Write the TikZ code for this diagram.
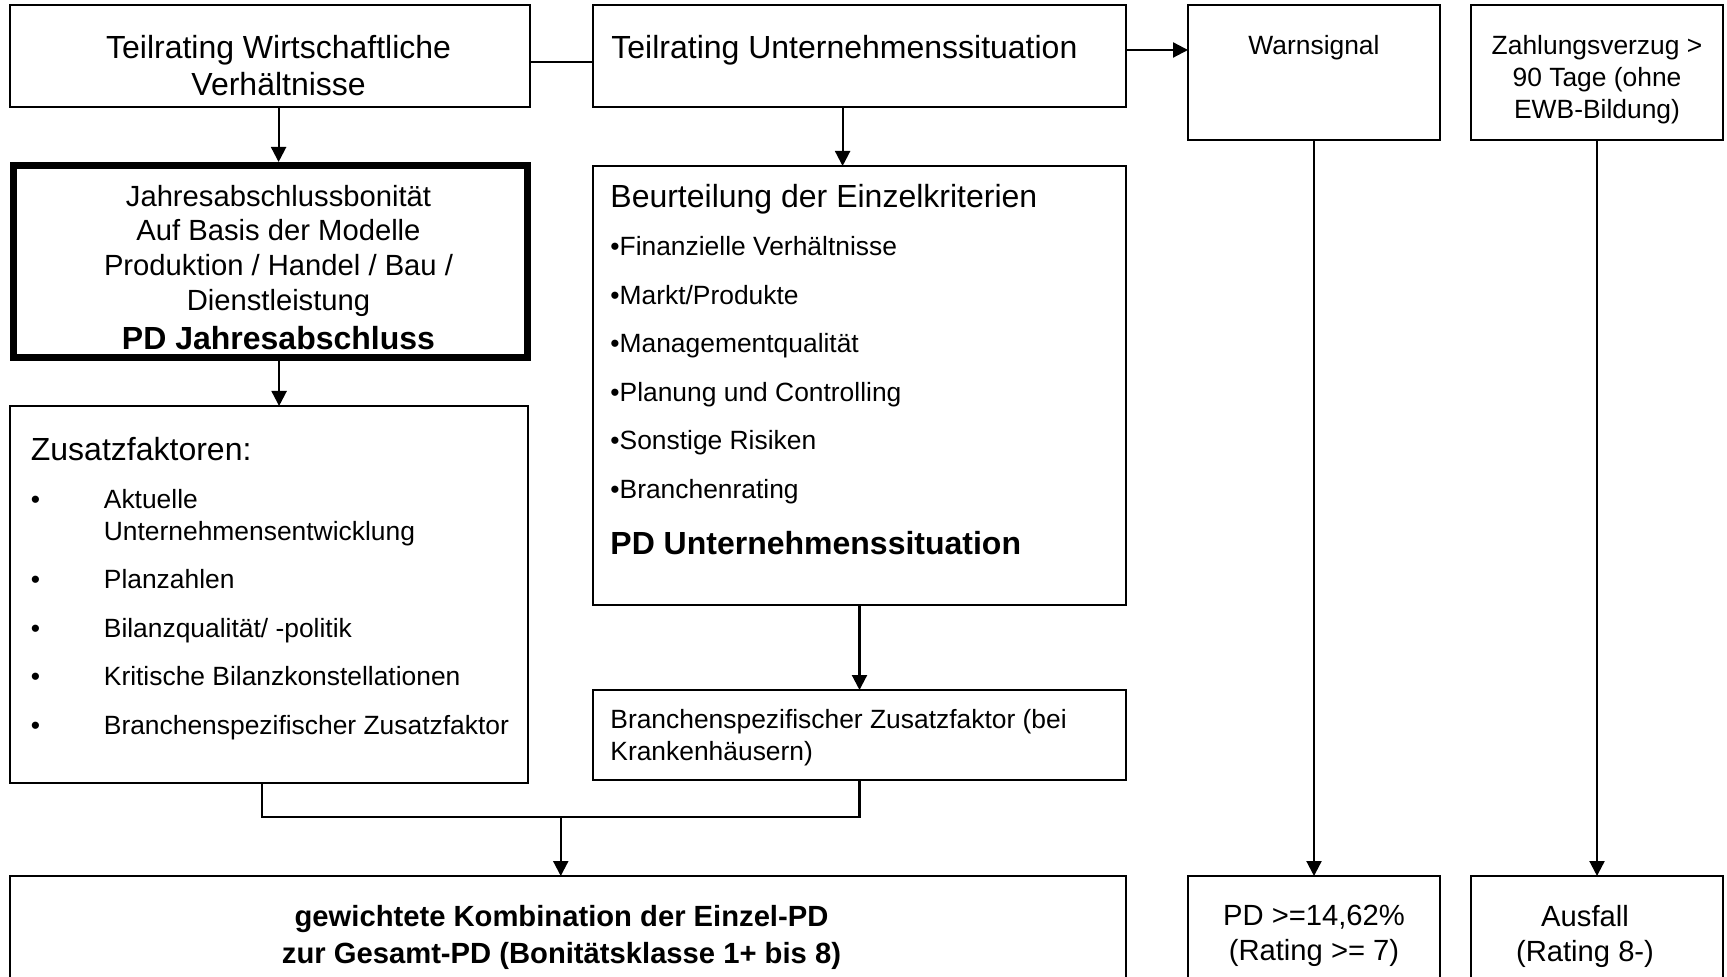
\documentclass[tikz,border=0pt]{standalone}
\usepackage{fontspec}
\setmainfont{Liberation Sans}
\usepackage{tikz}
\usetikzlibrary{arrows.meta,positioning,calc}

\begin{document}
\begin{tikzpicture}[
  x=0.5pt, y=-0.5pt,
  box/.style={draw, line width=1.1pt, inner sep=0pt, outer sep=0pt, anchor=north west},
  thickbox/.style={box, line width=3.5pt, outer sep=1.75pt},
  big/.style={inner sep=0pt, font=\fontsize{16}{18.75}\selectfont},
  mid/.style={inner sep=0pt, font=\fontsize{14.6}{17.4}\selectfont},
  small/.style={inner sep=0pt, font=\fontsize{13.2}{16}\selectfont},
  ln/.style={line width=1.1pt},
  ar/.style={-{Triangle[length=7.5pt,width=7.5pt]}, line width=1.1pt},
]
\useasboundingbox (0,0) rectangle (1727,977);

% --- top row ---
\node[box, minimum width=260pt, minimum height=51pt] (tw) at (10,5) {};
\node[box, minimum width=266.5pt, minimum height=51pt] (tu) at (593,5) {};
\node[box, minimum width=126pt, minimum height=67.5pt] (warn) at (1188,5) {};
\node[box, minimum width=126pt, minimum height=67.5pt] (zv) at (1471,5) {};
\node[big, align=center, below=14.75pt of tw.north, xshift=4.3pt] (twt) {Teilrating Wirtschaftliche\\Verhältnisse};
\node[big, below right=14.75pt and 9pt of tu.north west] (tut) {Teilrating Unternehmenssituation};
\node[small, below=14.75pt of warn.north] (warnt) {Warnsignal};
\node[small, align=center, below=14.75pt of zv.north] (zvt) {Zahlungsverzug >\\90 Tage (ohne\\EWB-Bildung)};

% --- left column ---
\node[thickbox, minimum width=257pt, minimum height=96pt] (jab) at (10,162) {};
\node[mid, align=center, below=11.25pt of jab.north, xshift=4pt] (jabt)
  {Jahresabschlussbonität\\Auf Basis der Modelle\\Produktion / Handel / Bau /\\Dienstleistung\\[1.9pt]
   {\fontsize{16}{19}\selectfont\bfseries PD Jahresabschluss}};
\node[box, minimum width=259pt, minimum height=188.5pt] (zus) at (10,406) {};
\node[small, align=left, below right=15.25pt and 10.25pt of zus.north west] (zust)
  {{\fontsize{16}{19}\selectfont Zusatzfaktoren:}\\[8pt]
   \makebox[36.5pt][l]{\textbullet}Aktuelle\\
   \hspace*{36.5pt}Unternehmensentwicklung\\[8.25pt]
   \makebox[36.5pt][l]{\textbullet}Planzahlen\\[8.25pt]
   \makebox[36.5pt][l]{\textbullet}Bilanzqualität/ -politik\\[8.25pt]
   \makebox[36.5pt][l]{\textbullet}Kritische Bilanzkonstellationen\\[8.25pt]
   \makebox[36.5pt][l]{\textbullet}Branchenspezifischer Zusatzfaktor};

% --- middle column ---
\node[box, minimum width=266.5pt, minimum height=219.5pt] (beu) at (593,166) {};
\node[inner sep=0pt, align=left, font=\fontsize{13.2}{24.25}\selectfont,
      below right=8.75pt and 8.5pt of beu.north west] (beut)
  {{\fontsize{16}{19}\selectfont Beurteilung der Einzelkriterien}\\
   \textbullet Finanzielle Verhältnisse\\
   \textbullet Markt/Produkte\\
   \textbullet Managementqualität\\
   \textbullet Planung und Controlling\\
   \textbullet Sonstige Risiken\\
   \textbullet Branchenrating\\[3.75pt]
   {\fontsize{16}{19}\selectfont\bfseries PD Unternehmenssituation}};
\node[box, minimum width=266.5pt, minimum height=45pt] (brz) at (593,690) {};
\node[small, align=left, below right=9.25pt and 8.5pt of brz.north west] (brzt)
  {Branchenspezifischer Zusatzfaktor (bei\\Krankenhäusern)};

% --- bottom row ---
\node[box, minimum width=558pt, minimum height=75pt] (ges) at (10,876) {};
\node[box, minimum width=126pt, minimum height=75pt] (pd) at (1188,876) {};
\node[box, minimum width=126pt, minimum height=75pt] (ausf) at (1471,876) {};
\node[inner sep=0pt, align=center, font=\fontsize{14.6}{18.85}\selectfont\bfseries,
      below=14.25pt of ges.north, xshift=-3.25pt] (gest)
  {gewichtete Kombination der Einzel-PD\\zur Gesamt-PD (Bonitätsklasse 1+ bis 8)};
\node[inner sep=0pt, align=center, font=\fontsize{14.6}{17.75}\selectfont,
      below=14.25pt of pd.north] (pdt) {PD >=14,62\%\\(Rating >= 7)};
\node[inner sep=0pt, align=center, font=\fontsize{14.6}{17.75}\selectfont,
      below=14.25pt of ausf.north, xshift=-6pt] (ausft) {Ausfall\\(Rating 8-)};

% --- connectors ---
\draw[ln] ([yshift=-3pt]tw.east) -- ([yshift=-3pt]tu.west);
\coordinate (tuo) at ([yshift=3pt]tu.east);
\draw[ar] (tuo) -- (tuo -| warn.west);
\coordinate (two) at ([xshift=4.3pt]tw.south);
\draw[ar] (two) -- (two |- jab.north);
\coordinate (jabo) at ([xshift=4.3pt]jab.south);
\draw[ar] (jabo) -- (jabo |- zus.north);
\coordinate (tuu) at ([xshift=-8.45pt]tu.south);
\draw[ar] (tuu) -- (tuu |- beu.north);
\draw[ar] (beu.south) -- (brz.north);
\coordinate (zuso) at ([xshift=-3.5pt]zus.south);
\draw[ln] (zuso) -- ++(0,-17pt) -| coordinate[pos=0.25] (jm) (brz.south);
\draw[ar] (jm) -- (jm |- ges.north);
\draw[ar] (warn.south) -- (pd.north);
\draw[ar] (zv.south) -- (ausf.north);
\end{tikzpicture}
\end{document}
